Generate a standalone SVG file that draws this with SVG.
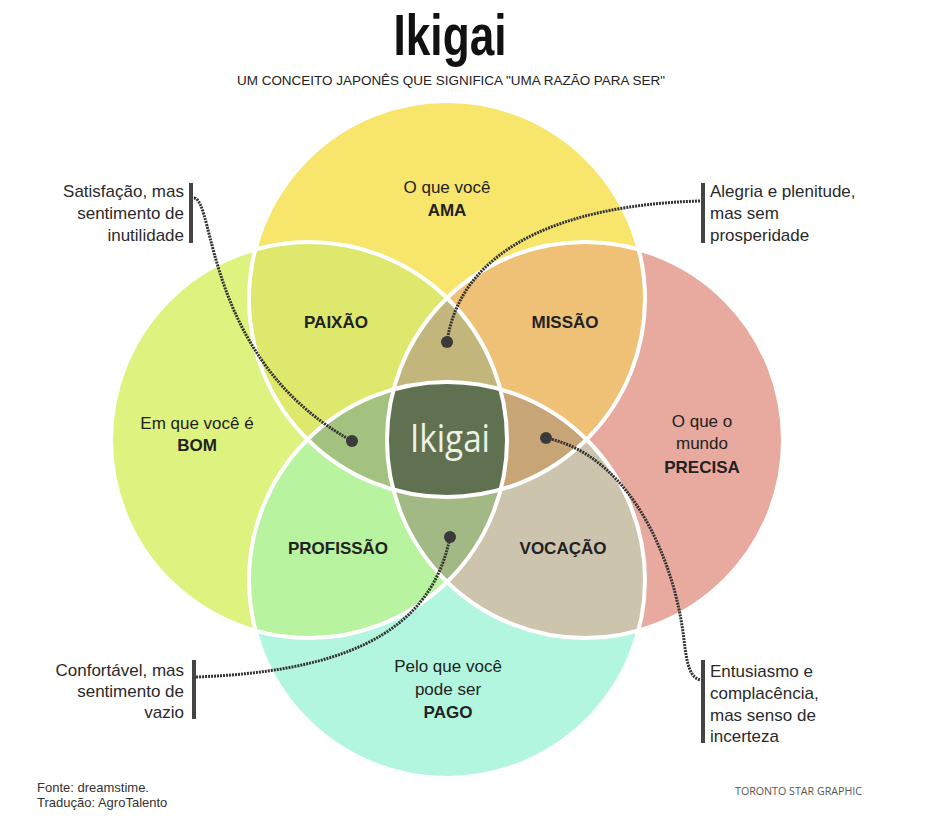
<svg xmlns="http://www.w3.org/2000/svg" width="935" height="832" viewBox="0 0 935 832">
<style>
.lbl{font-family:"Liberation Sans",Arial,sans-serif;font-size:17px;fill:#222;text-anchor:middle}
.b{font-weight:bold}
.ann{font-family:"Liberation Sans",Arial,sans-serif;font-size:17px;fill:#2a2a2a}
.r{text-anchor:end}
.bar{stroke:#444;stroke-width:4;fill:none}
.dot{fill:none;stroke:#333;stroke-width:3;stroke-dasharray:2 1}
.end{fill:#3a3a3a}
.edge{fill:none;stroke:#fff;stroke-width:4}
</style>
<defs>
<clipPath id="cT"><circle cx="447" cy="299" r="198"/></clipPath>
<clipPath id="cL"><circle cx="309" cy="440" r="198"/></clipPath>
<clipPath id="cR"><circle cx="585" cy="440" r="198"/></clipPath>
<clipPath id="cB"><circle cx="447" cy="580" r="198"/></clipPath>
</defs>
<rect width="935" height="832" fill="#fff"/>
<text x="450" y="55" font-family="'Liberation Sans',Arial,sans-serif" font-weight="bold" font-size="58" fill="#111" text-anchor="middle" textLength="113" lengthAdjust="spacingAndGlyphs">Ikigai</text>
<text x="451" y="85" font-family="'Liberation Sans',Arial,sans-serif" font-size="12" fill="#222" text-anchor="middle" textLength="428" lengthAdjust="spacingAndGlyphs">UM CONCEITO JAPONÊS QUE SIGNIFICA "UMA RAZÃO PARA SER"</text>

<g id="circles">
<circle id="top" cx="447" cy="299" r="198" fill="#f7e56c"/>
<circle id="left" cx="309" cy="440" r="198" fill="#ddf27f"/>
<circle id="right" cx="585" cy="440" r="198" fill="#e8a99e"/>
<circle id="bottom" cx="447" cy="580" r="198" fill="#b3f6df"/>
<circle cx="447" cy="299" r="198" fill="#dde86c" clip-path="url(#cL)"/>
<circle cx="447" cy="299" r="198" fill="#efc177" clip-path="url(#cR)"/>
<circle cx="447" cy="580" r="198" fill="#b8f3a0" clip-path="url(#cL)"/>
<circle cx="447" cy="580" r="198" fill="#cdc4ae" clip-path="url(#cR)"/>
<g clip-path="url(#cR)"><circle cx="447" cy="299" r="198" fill="#c2b67d" clip-path="url(#cL)"/></g>
<g clip-path="url(#cB)"><circle cx="447" cy="299" r="198" fill="#a3c280" clip-path="url(#cL)"/></g>
<g clip-path="url(#cB)"><circle cx="447" cy="299" r="198" fill="#c8a576" clip-path="url(#cR)"/></g>
<g clip-path="url(#cR)"><circle cx="447" cy="580" r="198" fill="#a3b985" clip-path="url(#cL)"/></g>
<g clip-path="url(#cB)"><g clip-path="url(#cR)"><circle cx="447" cy="299" r="198" fill="#5f7150" clip-path="url(#cL)"/></g></g>
<circle class="edge" cx="447" cy="299" r="198"/>
<circle class="edge" cx="309" cy="440" r="198"/>
<circle class="edge" cx="585" cy="440" r="198"/>
<circle class="edge" cx="447" cy="580" r="198"/>
</g>

<g id="labels">
<text class="lbl" x="447" y="193">O que você</text>
<text class="lbl b" x="447" y="216">AMA</text>
<text class="lbl b" x="336" y="328">PAIXÃO</text>
<text class="lbl b" x="565" y="328">MISSÃO</text>
<text class="lbl" x="197" y="429">Em que você é</text>
<text class="lbl b" x="197" y="451">BOM</text>
<text class="lbl" x="702" y="427">O que o</text>
<text class="lbl" x="702" y="449">mundo</text>
<text class="lbl b" x="702" y="473">PRECISA</text>
<text class="lbl b" x="338" y="554">PROFISSÃO</text>
<text class="lbl b" x="563" y="554">VOCAÇÃO</text>
<text class="lbl" x="448" y="672">Pelo que você</text>
<text class="lbl" x="448" y="695">pode ser</text>
<text class="lbl b" x="448" y="718">PAGO</text>
<text id="center" x="450" y="452" font-family="'Open Sans','Noto Sans',sans-serif" font-size="38" fill="#eef2e6" text-anchor="middle" textLength="80" lengthAdjust="spacingAndGlyphs">Ikigai</text>
</g>

<g id="connectors">
<path class="dot" d="M194,198 C215,200 205,360 352,441"/>
<path class="dot" d="M700,201 C560,205 460,250 447,342"/>
<path class="dot" d="M196,677 C330,672 430,640 450,537"/>
<path class="dot" d="M546,438 C630,455 675,560 684,640 C687,665 690,678 701,680"/>
<circle class="end" cx="352" cy="441" r="6"/>
<circle class="end" cx="447" cy="342" r="6"/>
<circle class="end" cx="450" cy="537" r="6"/>
<circle class="end" cx="546" cy="438" r="6"/>
</g>

<g id="note-tl">
<line class="bar" x1="191" y1="183" x2="191" y2="243"/>
<text class="ann r" x="184" y="197">Satisfação, mas</text>
<text class="ann r" x="184" y="219">sentimento de</text>
<text class="ann r" x="184" y="241">inutilidade</text>
</g>
<g id="note-tr">
<line class="bar" x1="703" y1="183" x2="703" y2="243"/>
<text class="ann" x="710" y="197">Alegria e plenitude,</text>
<text class="ann" x="710" y="219">mas sem</text>
<text class="ann" x="710" y="241">prosperidade</text>
</g>
<g id="note-bl">
<line class="bar" x1="194" y1="660" x2="194" y2="719"/>
<text class="ann r" x="184" y="676">Confortável, mas</text>
<text class="ann r" x="184" y="697">sentimento de</text>
<text class="ann r" x="184" y="718">vazio</text>
</g>
<g id="note-br">
<line class="bar" x1="703" y1="660" x2="703" y2="743"/>
<text class="ann" x="710" y="677">Entusiasmo e</text>
<text class="ann" x="710" y="699">complacência,</text>
<text class="ann" x="710" y="721">mas senso de</text>
<text class="ann" x="710" y="742">incerteza</text>
</g>

<g id="footer">
<text x="37" y="792" font-family="'Liberation Sans',Arial,sans-serif" font-size="13" fill="#333">Fonte: dreamstime.</text>
<text x="37" y="807" font-family="'Liberation Sans',Arial,sans-serif" font-size="13" fill="#333">Tradução: AgroTalento</text>
<text x="735" y="795" font-family="'Open Sans','Noto Sans',sans-serif" font-size="10.5" fill="#555" textLength="127" lengthAdjust="spacingAndGlyphs">TORONTO STAR GRAPHIC</text>
</g>
</svg>
